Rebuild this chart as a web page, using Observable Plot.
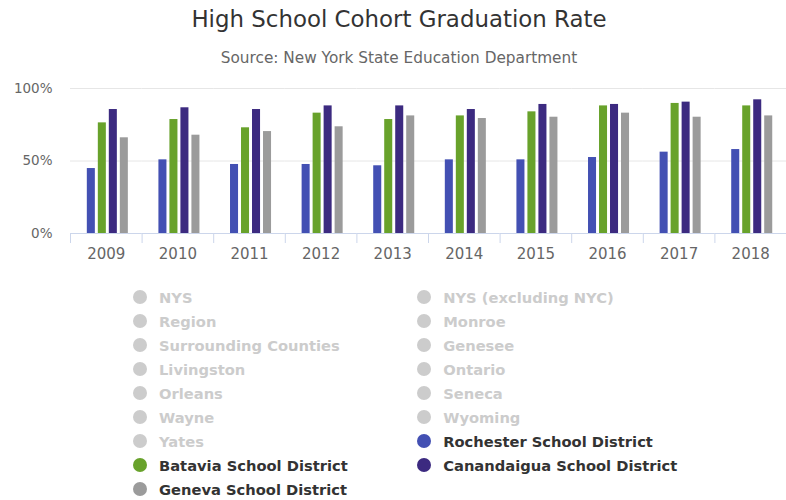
<!DOCTYPE html>
<html>
<head>
<meta charset="utf-8">
<script src="https://cdn.jsdelivr.net/npm/d3@7"></script>
<script src="https://cdn.jsdelivr.net/npm/@observablehq/plot@0.6"></script>
<style>
  html, body { margin: 0; padding: 0; background: #fff; }
  body { width: 786px; height: 500px; position: relative; overflow: hidden; font-family: "DejaVu Sans", sans-serif; }
  #title { position: absolute; left: 6px; width: 786px; top: 8px; text-align: center; font-size: 22.9px; line-height: 1; color: #333; }
  #subtitle { position: absolute; left: 6px; width: 786px; top: 51px; text-align: center; font-size: 15.3px; line-height: 1; color: #666; }
  #chart { position: absolute; left: 0; top: 72px; }
  .item { position: absolute; height: 24px; display: flex; align-items: center; font-size: 14.7px; font-weight: bold; white-space: nowrap; }
  .dot { width: 14px; height: 14px; border-radius: 50%; margin-right: 12.5px; flex: none; }
</style>
</head>
<body>
<div id="title">High School Cohort Graduation Rate</div>
<div id="subtitle">Source: New York State Education Department</div>
<div id="chart"></div>
<div id="legend"></div>
<script>
const years = ["2009","2010","2011","2012","2013","2014","2015","2016","2017","2018"];
const series = ["Rochester School District","Batavia School District","Canandaigua School District","Geneva School District"];
const seriesColors = ["#4350b3","#68a22b","#3c2a80","#9b9b9b"];
const rochester   = [44.8, 50.8, 47.6, 47.6, 46.7, 50.8, 50.8, 52.4, 56.1, 57.9];
const batavia     = [76.3, 78.6, 72.9, 83.0, 78.6, 81.1, 83.9, 88.0, 89.7, 88.0];
const canandaigua = [85.5, 86.7, 85.5, 88.0, 88.0, 85.5, 89.0, 89.0, 90.6, 92.2];
const geneva      = [66.0, 67.8, 70.3, 73.6, 81.1, 79.3, 80.2, 83.0, 80.2, 81.1];
const yTicks = [0, 50, 100];
const legendNames = ["NYS","NYS (excluding NYC)","Region","Monroe","Surrounding Counties","Genesee","Livingston","Ontario","Orleans","Seneca","Wayne","Wyoming","Yates","Rochester School District","Batavia School District","Canandaigua School District","Geneva School District"];

const valuesBySeries = [rochester, batavia, canandaigua, geneva];
const data = years.flatMap((yr, i) => series.map((s, j) => ({year: yr, series: s, value: valuesBySeries[j][i]})));

const chart = Plot.plot({
  width: 786, height: 196,
  marginLeft: 70, marginRight: 0, marginTop: 16, marginBottom: 35,
  style: {fontFamily: "DejaVu Sans", background: "white"},
  fx: {domain: years, padding: 0, round: false, label: null, axis: null},
  x: {domain: series, axis: null, round: false, paddingInner: 0.27, paddingOuter: 1.39, align: 0.55},
  y: {domain: [0, 100], label: null},
  color: {domain: series, range: seriesColors},
  marks: [
    Plot.ruleY(yTicks.slice(1), {stroke: "#e6e6e6"}),
    Plot.barY(data, {fx: "year", x: "series", y: "value", fill: "series"}),
    Plot.ruleY([0], {stroke: "#ccd6eb"}),
    Plot.axisY({ticks: yTicks, tickFormat: d => d + "%", tickSize: 0, tickPadding: 18, fontSize: 13.5, color: "#666", label: null}),
    Plot.axisFx({anchor: "bottom", tickSize: 0, tickPadding: 15, fontSize: 15, color: "#666", label: null}),
    Plot.axisFx({anchor: "bottom", tickSize: 10, text: null, dx: -35.8, stroke: "#ccd6eb", label: null})
  ]
});
document.getElementById("chart").appendChild(chart);

const legend = document.getElementById("legend");
legendNames.forEach((name, k) => {
  const col = k % 2, row = Math.floor(k / 2);
  const idx = series.indexOf(name);
  const active = idx >= 0;
  const el = document.createElement("div");
  el.className = "item";
  el.style.left = (col === 0 ? 132.5 : 416.7) + "px";
  el.style.top = (285 + row * 24) + "px";
  const dot = document.createElement("div");
  dot.className = "dot";
  dot.style.background = active ? seriesColors[idx] : "#cccccc";
  const txt = document.createElement("span");
  txt.textContent = name;
  txt.style.color = active ? "#333" : "#cccccc";
  el.appendChild(dot); el.appendChild(txt);
  legend.appendChild(el);
});
</script>
</body>
</html>
